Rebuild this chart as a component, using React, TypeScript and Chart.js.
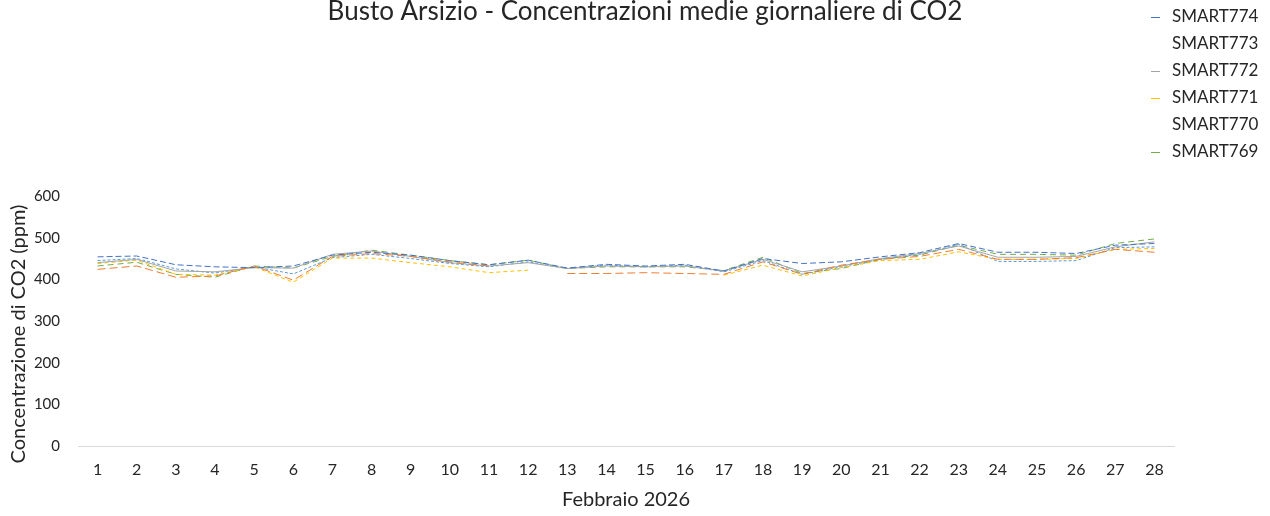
import React, { useEffect, useRef } from "react";
import { Chart, registerables } from "chart.js";

Chart.register(...registerables);

const days = ["1","2","3","4","5","6","7","8","9","10","11","12","13","14","15","16","17","18","19","20","21","22","23","24","25","26","27","28"];

const smart774 = [454, 456, 435, 430, 428, 432, 458, 465, 458, 445, 435, 446, 427, 436, 432, 436, 420, 450, 438, 442, 454, 464, 486, 465, 465, 462, 482, 486];
const smart773 = [424, 432, 405, 408, 432, 398, 455, 462, 455, 442, 432, null, 414, 414, 416, 414, 412, 442, 412, 434, 448, 455, 472, 448, 448, 452, 472, 465];
const smart772 = [440, 448, 420, 418, 428, 427, 460, 468, 455, 440, 432, 440, 426, 432, 430, 432, 420, 448, 418, 432, 450, 462, 480, 453, 453, 455, 478, 490];
const smart771 = [438, 446, 412, 410, 430, 393, 451, 451, 440, 430, 416, 422, null, null, null, null, 410, 434, 408, 428, 445, 448, 466, 448, 448, 450, 472, 474];
const smart770 = [445, 450, 425, 415, 430, 413, 452, 460, 450, 438, 430, 442, 426, 434, 430, 434, 418, 445, 412, 430, 448, 460, 484, 443, 443, 445, 476, 478];
const smart769 = [432, 441, 412, 405, 432, 427, 455, 470, 458, 445, 435, 446, 426, 430, 430, 430, 421, 453, 414, 426, 448, 458, 482, 460, 460, 458, 486, 497];

const seriesNames = ["SMART774", "SMART773", "SMART772", "SMART771", "SMART770", "SMART769"];
const seriesData = [smart774, smart773, smart772, smart771, smart770, smart769];
const seriesColors = ["#4472C4", "#ED7D31", "#A5A5A5", "#FFC000", "#5B9BD5", "#70AD47"];
const seriesDash = [[6, 3], [8, 4], [], [4, 3], [3, 2], [6, 4]];
const legendMarkerShown = [true, false, true, true, false, true];

const titleText = "Busto Arsizio - Concentrazioni medie giornaliere di CO2";
const yTitle = "Concentrazione di CO2 (ppm)";
const xTitle = "Febbraio 2026";
const FONT = "Lato";

const overlayPlugin = {
  id: "overlay",
  afterDraw(chart: any) {
    const ctx = chart.ctx;
    ctx.save();
    ctx.fillStyle = "#262626";
    ctx.font = `26px ${FONT}`;
    ctx.textAlign = "center";
    ctx.textBaseline = "alphabetic";
    ctx.fillText(titleText, 645, 20);
    ctx.font = `17px ${FONT}`;
    ctx.textAlign = "left";
    ctx.textBaseline = "middle";
    seriesNames.forEach((name, i) => {
      const y = 17 + i * 27;
      if (legendMarkerShown[i]) {
        ctx.strokeStyle = seriesColors[i];
        ctx.lineWidth = 1;
        ctx.beginPath();
        ctx.moveTo(1151, y + 0.5);
        ctx.lineTo(1160, y + 0.5);
        ctx.stroke();
      }
      ctx.fillStyle = "#262626";
      ctx.fillText(name, 1172, y);
    });
    ctx.save();
    ctx.translate(19, 334);
    ctx.rotate(-Math.PI / 2);
    ctx.font = `20px ${FONT}`;
    ctx.textAlign = "center";
    ctx.textBaseline = "middle";
    ctx.fillText(yTitle, 0, 0);
    ctx.restore();
    ctx.restore();
  },
};

export default function App() {
  const ref = useRef<HTMLCanvasElement>(null);
  useEffect(() => {
    if (!ref.current) return;
    const chart = new Chart(ref.current, {
      type: "line",
      data: {
        labels: days,
        datasets: seriesNames.map((name, i) => ({
          label: name,
          data: seriesData[i],
          borderColor: seriesColors[i],
          backgroundColor: seriesColors[i],
          borderWidth: 1,
          borderDash: seriesDash[i],
          pointRadius: 0,
          tension: 0,
          spanGaps: false,
          fill: false,
        })),
      },
      options: {
        responsive: false,
        animation: false,
        layout: { padding: { left: 0, top: 196, right: 96, bottom: 0 } },
        plugins: {
          legend: { display: false },
          title: { display: false },
          tooltip: { enabled: false },
        },
        scales: {
          x: {
            type: "category",
            offset: true,
            grid: { display: false, drawOnChartArea: false },
            border: { display: true, color: "#D9D9D9", width: 1 },
            ticks: { color: "#262626", font: { family: FONT, size: 16 }, padding: 6, maxRotation: 0, autoSkip: false },
            title: { display: true, text: xTitle, color: "#262626", font: { family: FONT, size: 20 }, padding: { top: 0, bottom: 4 } },
            afterFit: (s: any) => { s.height = 70; },
          },
          y: {
            min: 0,
            max: 600,
            ticks: { stepSize: 100, color: "#262626", font: { family: FONT, size: 15 }, padding: 18 },
            grid: { display: false, drawTicks: false },
            border: { display: false },
            title: { display: false },
            afterFit: (s: any) => { s.width = 78; },
          },
        },
      },
      plugins: [overlayPlugin],
    });
    return () => chart.destroy();
  }, []);
  return (
    <div style={{ position: "fixed", left: 0, top: 0, width: 1270, height: 516, background: "#fff" }}>
      <canvas ref={ref} width={1270} height={516} style={{ width: 1270, height: 516 }} />
    </div>
  );
}
